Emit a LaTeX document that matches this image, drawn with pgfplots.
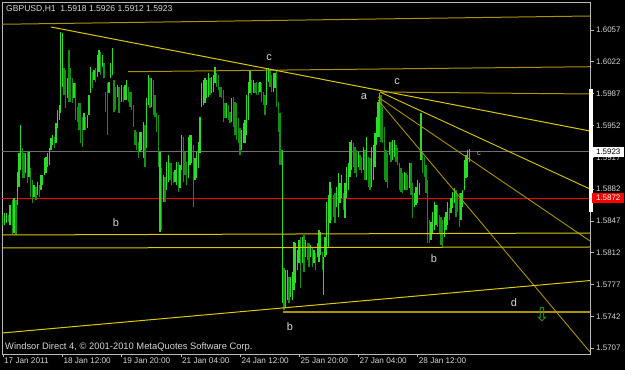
\documentclass[border=0pt]{standalone}
\usepackage{pgfplots}
\pgfplotsset{compat=1.18}
\usepackage{pgfplotstable}
\usepackage{fontspec}
\setmainfont{Liberation Sans}
\newfontfamily\symfont{DejaVu Sans}
\definecolor{barup}{RGB}{40,220,40}
\definecolor{bardn}{RGB}{18,145,18}
\definecolor{goldA}{RGB}{220,200,0}
\definecolor{goldB}{RGB}{170,146,0}
\definecolor{frame}{RGB}{185,185,185}
\definecolor{lbl}{RGB}{215,215,215}

\pgfplotstableread{
x hi lo c
2.7 1.58535 1.58425 1
4.7 1.58557 1.58425 1
6.7 1.58557 1.58447 1
8.3 1.58535 1.58458 0
10 1.58645 1.58425 1
12.3 1.58700 1.58315 0
14 1.58722 1.58337 1
16 1.58700 1.58315 0
17.3 1.59008 1.58645 1
19 1.59217 1.58843 1
20.7 1.59525 1.59030 1
22.3 1.59272 1.58942 0
24 1.59217 1.58942 0
25.7 1.59217 1.58997 1
27.3 1.59228 1.58887 0
29 1.59228 1.58953 1
30.7 1.59052 1.58733 0
32.3 1.58920 1.58667 0
34 1.58865 1.58733 1
36 1.58843 1.58700 0
37.7 1.58898 1.58755 1
39.3 1.58865 1.58733 0
41 1.58975 1.58810 1
42.7 1.58975 1.58865 1
44.3 1.59162 1.58975 1
46 1.59173 1.58997 1
47.7 1.59217 1.59063 1
49.3 1.59272 1.59085 1
51 1.59382 1.59250 1
52.7 1.59415 1.59305 1
54.3 1.59393 1.59272 0
56 1.59547 1.59327 1
57.7 1.59690 1.59492 1
59.3 1.59745 1.59580 1
60.7 1.60548 1.59657 1
62.3 1.60537 1.59943 1
64 1.60152 1.59855 0
65.7 1.60130 1.59712 0
67.3 1.60042 1.59822 1
69 1.60350 1.59778 0
70.7 1.60152 1.59778 0
72.3 1.60042 1.59767 0
74 1.59987 1.59822 1
75.7 1.59987 1.59580 0
77.3 1.59723 1.59558 0
79 1.59767 1.59470 0
80.7 1.59767 1.59327 0
82.3 1.59613 1.59283 0
84 1.59657 1.59470 1
85.7 1.59613 1.59470 0
87.3 1.59635 1.59492 1
89 1.59855 1.59635 1
90.7 1.60163 1.59877 1
92.3 1.60108 1.59932 0
94 1.60130 1.60020 1
95.7 1.60152 1.59998 0
97.3 1.60295 1.60053 1
99 1.60350 1.60108 1
100.7 1.60328 1.60075 0
102.3 1.60295 1.60163 1
104 1.60207 1.60042 0
105.7 1.59888 1.59668 0
107.3 1.59987 1.59415 0
109 1.59998 1.59877 1
110.7 1.60207 1.60042 1
112.3 1.60372 1.60075 1
114 1.60020 1.59668 0
115.7 1.59943 1.59690 0
117.3 1.59965 1.59833 1
119 1.59943 1.59657 0
121.7 1.59965 1.59778 1
123.3 1.59943 1.59778 0
125 1.59965 1.59800 1
126.7 1.60020 1.59800 1
128.3 1.59943 1.59778 0
130 1.59888 1.59723 0
131.7 1.59888 1.59690 0
133.3 1.59745 1.59503 0
135 1.59470 1.59305 0
136.7 1.59448 1.59250 0
138.3 1.59338 1.59162 0
140 1.59448 1.59228 1
141.7 1.59448 1.59250 1
143.3 1.59558 1.59162 1
145 1.59525 1.59063 0
146.7 1.59822 1.59272 1
148.3 1.60075 1.59745 1
150 1.60042 1.59712 0
151.7 1.60042 1.59723 1
153.3 1.60020 1.59635 0
155 1.59855 1.59613 0
156.7 1.59657 1.59448 0
158.3 1.59635 1.59063 0
160 1.59228 1.58348 1
161.7 1.59052 1.58370 0
163.3 1.58975 1.58678 1
165 1.58953 1.58678 0
166.7 1.59118 1.58810 1
168.3 1.59195 1.58898 1
170 1.59107 1.58920 0
171.7 1.59107 1.58865 0
173.3 1.59008 1.58887 0
175 1.59030 1.58898 1
176.7 1.59118 1.58865 1
178.3 1.59118 1.58788 0
180 1.59085 1.58832 1
181.7 1.59415 1.59030 1
183.3 1.59393 1.58898 0
185 1.59228 1.58975 0
186.7 1.59118 1.58865 0
188.3 1.59393 1.58942 1
190 1.59415 1.59085 1
191.7 1.59415 1.59107 1
193.3 1.59305 1.58623 0
195 1.59162 1.58920 1
196.7 1.59228 1.58942 1
198.3 1.59338 1.59052 1
200 1.59613 1.59217 1
201.7 1.59987 1.59723 1
203.3 1.60020 1.59745 1
205 1.60042 1.59767 1
206.7 1.60020 1.59822 1
208.3 1.60097 1.59833 1
210 1.60042 1.59855 0
211.7 1.60053 1.59877 1
213.3 1.60075 1.59888 1
215 1.60163 1.59987 1
216.7 1.60097 1.59943 0
218.3 1.60075 1.59910 0
220 1.59943 1.59833 0
221.7 1.59943 1.59822 0
223.3 1.59910 1.59558 0
225 1.59767 1.59602 0
226.7 1.59767 1.59602 1
228.3 1.59745 1.59580 0
230 1.59668 1.59547 0
231.7 1.59822 1.59558 1
233.3 1.59833 1.59503 0
235 1.59778 1.59415 0
236.7 1.59767 1.59360 0
238.3 1.59602 1.59327 0
240 1.59492 1.59195 0
241.7 1.59470 1.59250 1
243.3 1.59547 1.59327 1
245 1.59580 1.59327 1
246.7 1.59855 1.59415 1
248.3 1.59998 1.59580 1
250 1.60130 1.59877 1
251.7 1.60020 1.59855 0
253.3 1.60020 1.59877 1
255 1.59987 1.59877 0
256.7 1.59998 1.59855 0
258.3 1.59987 1.59855 0
260 1.59998 1.59888 1
261.7 1.59987 1.59778 0
263.3 1.59888 1.59745 0
265 1.59855 1.59635 0
266.7 1.60152 1.59745 1
268.3 1.60152 1.59998 1
270 1.60130 1.59943 0
271.7 1.60075 1.59888 0
273.3 1.60097 1.59888 1
275 1.60097 1.59932 1
276.7 1.60130 1.59723 0
278.3 1.59778 1.59448 0
280 1.59657 1.59085 0
281.7 1.59250 1.59085 0
282.7 1.59250 1.57567 1
284 1.57952 1.57490 0
285.7 1.57930 1.57523 1
287.3 1.57930 1.57600 1
289 1.57853 1.57567 0
290.7 1.57853 1.57633 1
292.3 1.57908 1.57600 1
294 1.58238 1.57710 1
295.7 1.58227 1.57787 1
297.3 1.58150 1.57930 1
299 1.58260 1.58007 1
300.7 1.58293 1.57732 0
302.3 1.58293 1.58007 1
304 1.58315 1.57908 0
305.7 1.58260 1.58073 1
307.3 1.58227 1.58040 0
309 1.58227 1.57963 0
310.7 1.58205 1.58073 1
312.3 1.58183 1.57963 0
314 1.58150 1.58007 1
315.7 1.58117 1.57930 0
317.3 1.58227 1.58073 1
319 1.58370 1.58018 1
320.7 1.58348 1.58095 1
322.3 1.58128 1.57930 0
323.3 1.58073 1.57655 1
325 1.58293 1.58073 1
326.7 1.58678 1.58095 1
328.3 1.58755 1.58183 1
330 1.58898 1.58447 1
331.7 1.58832 1.58480 0
333.3 1.58755 1.58513 0
335 1.58777 1.58447 0
336.7 1.58843 1.58623 1
338.3 1.58997 1.58513 1
340 1.58887 1.58667 1
341.7 1.58975 1.58722 1
343.3 1.58777 1.58590 0
345 1.58887 1.58502 1
346.7 1.59063 1.58722 1
348.3 1.59107 1.58810 1
350 1.59338 1.58953 1
351.7 1.59360 1.59030 1
353.3 1.59327 1.59063 0
355 1.59283 1.58997 0
356.7 1.59250 1.58953 0
358.3 1.59228 1.59063 1
360 1.59195 1.59030 0
361.7 1.59173 1.58997 0
363.3 1.59283 1.59030 1
365 1.59250 1.58920 0
366.7 1.59393 1.58920 1
368.3 1.59173 1.58843 0
370 1.59162 1.58810 0
371.7 1.59283 1.58843 1
373.3 1.59305 1.58920 1
374.9 1.59437 1.59063 1
376.5 1.59613 1.59305 1
378 1.59778 1.59393 1
379.5 1.59877 1.59393 1
381 1.59855 1.59338 0
382.7 1.59723 1.59327 0
384.3 1.59503 1.58920 0
386 1.59250 1.58898 0
387.7 1.59217 1.58832 0
389.3 1.59338 1.59195 1
391 1.59338 1.59118 0
392.7 1.59360 1.59140 1
394.3 1.59360 1.59173 1
396 1.59305 1.59118 0
397.7 1.59272 1.59085 0
399.3 1.59107 1.58810 0
401 1.59052 1.58788 0
402.7 1.58997 1.58777 0
404.3 1.59008 1.58810 1
406 1.58997 1.58810 0
407.7 1.58975 1.58810 0
409.3 1.59107 1.58832 1
411 1.59107 1.58755 0
412.7 1.58887 1.58502 0
414.3 1.58777 1.58623 1
416 1.58843 1.58645 1
417.7 1.58920 1.58667 1
419.3 1.58887 1.58755 1
421 1.59657 1.59140 1
422.7 1.59228 1.58997 0
424.3 1.59173 1.58953 0
426 1.59085 1.58777 0
427.7 1.58920 1.58227 0
429.3 1.58480 1.58227 0
431 1.58458 1.58260 1
432.7 1.58568 1.58337 1
434.3 1.58678 1.58370 1
436 1.58645 1.58425 1
437.7 1.58645 1.58403 0
439.3 1.58535 1.58337 0
441 1.58513 1.58205 0
442.7 1.58480 1.58183 0
444.3 1.58513 1.58293 1
446 1.58568 1.58370 1
447.7 1.58678 1.58425 1
449.3 1.58612 1.58480 0
451 1.58722 1.58557 1
452.7 1.58788 1.58612 1
454.3 1.58832 1.58667 1
456 1.58810 1.58513 0
457.7 1.58755 1.58568 0
459.3 1.58777 1.58403 0
461 1.58777 1.58480 1
462.7 1.58810 1.58623 1
464.3 1.59140 1.58810 1
466 1.59195 1.58942 1
467.7 1.59250 1.58953 1
469.3 1.59260 1.59120 1
}\bars

\begin{document}
\begin{tikzpicture}
\useasboundingbox (-2bp,-16bp) rectangle (623bp,354bp);
\fill[black] (-2bp,-16bp) rectangle (623bp,354bp);
\begin{axis}[
  at={(0,0)}, anchor=south west,
  width=588bp, height=352bp, scale only axis,
  xmin=2, xmax=590, ymin=1.57006, ymax=1.60878,
  axis background/.style={fill=black},
  axis line style={draw=frame, line width=0.9bp},
  clip mode=individual,
  xtick pos=bottom, ytick pos=right, yticklabel pos=right,
  tick align=outside, major tick length=3.5bp,
  tick style={draw=frame, line width=0.7bp},
  xtick={3,62.3,121.7,181,240.3,299.5,358.3,417.7},
  xticklabels={17 Jan 2011,18 Jan 12:00,19 Jan 20:00,21 Jan 04:00,24 Jan 12:00,25 Jan 20:00,27 Jan 04:00,28 Jan 12:00},
  xticklabel style={anchor=north west, inner sep=0.5bp, xshift=0.5bp, text=lbl, font=\fontsize{8.2}{9}\selectfont},
  ytick={1.5707,1.5742,1.5777,1.5812,1.5847,1.5882,1.5917,1.5952,1.5987,1.6022,1.6057},
  yticklabels={1.5707,1.5742,1.5777,1.5812,1.5847,1.5882,1.5917,1.5952,1.5987,1.6022,1.6057},
  yticklabel style={anchor=west, inner sep=0.5bp, xshift=2bp, text=lbl, font=\fontsize{8}{9}\selectfont},
]
% horizontal reference lines
\addplot[draw={rgb,255:red,112;green,112;blue,112}, line width=1bp] coordinates {(2,1.5923) (590,1.5923)};
\addplot[draw=red, line width=1bp] coordinates {(2,1.5872) (590,1.5872)};
% price bars
\addplot[draw=none, mark=none, forget plot,
  restrict expr to domain={\thisrow{c}}{0:0},
  error bars/.cd, y dir=plus, y explicit, error mark=none,
  error bar style={draw=bardn, line width=1.25bp}]
  table[x=x, y=lo, y error expr=\thisrow{hi}-\thisrow{lo}] {\bars};
\addplot[draw=none, mark=none, forget plot,
  restrict expr to domain={\thisrow{c}}{1:1},
  error bars/.cd, y dir=plus, y explicit, error mark=none,
  error bar style={draw=barup, line width=1.25bp}]
  table[x=x, y=lo, y error expr=\thisrow{hi}-\thisrow{lo}] {\bars};
% trend lines
\addplot[draw=goldB, line width=1bp] coordinates {(2,1.60633) (590,1.60724)};
\addplot[draw=goldB, line width=1bp] coordinates {(128,1.60111) (590,1.60166)};
\addplot[draw=goldA, line width=1bp] coordinates {(51,1.60603) (590,1.59459)};
\addplot[draw=goldB, line width=1bp] coordinates {(380,1.59888) (590,1.59866)};
\addplot[draw=goldA, line width=0.9bp] coordinates {(380,1.59888) (590,1.58821)};
\addplot[draw=goldB, line width=0.9bp] coordinates {(378,1.59833) (590,1.58249)};
\addplot[draw=goldB, line width=0.9bp] coordinates {(378,1.59800) (590,1.57028)};
\addplot[draw=goldA, line width=1bp] coordinates {(2,1.58315) (590,1.58337)};
\addplot[draw=goldA, line width=1bp] coordinates {(2,1.58172) (590,1.58183)};
\addplot[draw=goldA, line width=1bp] coordinates {(2,1.57237) (590,1.57814)};
\addplot[draw=goldB, line width=1.1bp] coordinates {(283,1.57468) (590,1.57468)};
% wave labels
\node[text=lbl, font=\fontsize{11}{12}\selectfont, inner sep=0] at (axis cs:269,1.60262) {c};
\node[text=lbl, font=\fontsize{11}{12}\selectfont, inner sep=0] at (axis cs:397,1.59998) {c};
\node[text=lbl, font=\fontsize{11}{12}\selectfont, inner sep=0] at (axis cs:364,1.59833) {a};
\node[text=lbl!80!black, font=\fontsize{7.5}{8}\selectfont, inner sep=0] at (axis cs:479,1.59206) {c};
\node[text=lbl, font=\fontsize{11}{12}\selectfont, inner sep=0] at (axis cs:116,1.58447) {b};
\node[text=lbl, font=\fontsize{11}{12}\selectfont, inner sep=0] at (axis cs:434,1.58051) {b};
\node[text=lbl, font=\fontsize{11}{12}\selectfont, inner sep=0] at (axis cs:290,1.57303) {b};
\node[text=lbl, font=\fontsize{11}{12}\selectfont, inner sep=0] at (axis cs:514,1.57567) {d};
\node[text={rgb,255:red,30;green,170;blue,30}, font=\symfont\fontsize{19}{20}\selectfont, inner sep=0] at (axis cs:542,1.57435) {⇩};
\coordinate (pw) at (axis cs:590,1.5923);
\coordinate (pr) at (axis cs:590,1.5872);
\end{axis}
% price-range marker on the right edge
\path[fill=white, draw=white, line width=0.5bp] (587bp,143bp) rectangle (590.4bp,265bp);
\node[fill=white, text=black, anchor=west, inner sep=0pt, minimum width=32bp, minimum height=10.5bp, font=\fontsize{8}{9}\selectfont] at ([xshift=2bp]pw) {1.5923};
\node[fill=red, text=white, anchor=west, inner sep=0pt, minimum width=32bp, minimum height=10.5bp, font=\fontsize{8}{9}\selectfont] at ([xshift=2bp]pr) {1.5872};
\node[anchor=west, text=lbl, inner sep=0pt, font=\fontsize{8.6}{10}\selectfont] at (4bp,344.5bp) {GBPUSD,H1\ \ 1.5918 1.5926 1.5912 1.5923};
\node[anchor=west, text=lbl, inner sep=0pt, font=\fontsize{9.4}{11}\selectfont] at (3bp,7bp) {Windsor Direct 4, © 2001-2010 MetaQuotes Software Corp.};
\end{tikzpicture}
\end{document}
